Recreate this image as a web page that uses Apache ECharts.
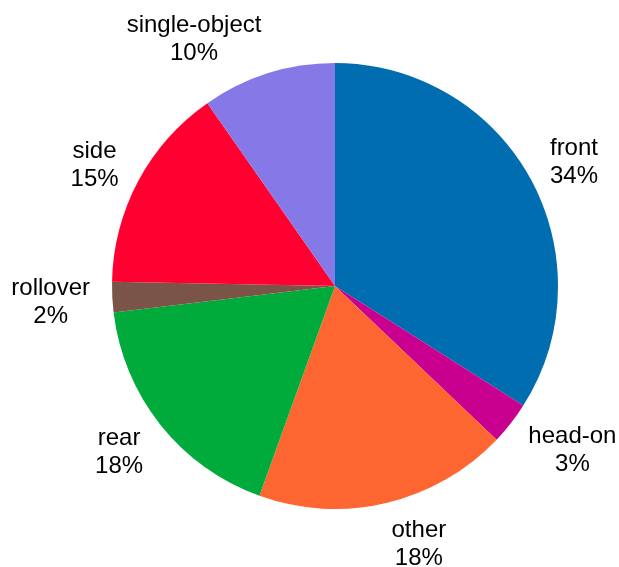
<!DOCTYPE html>
<html>
<head>
<meta charset="utf-8">
<script src="https://cdn.jsdelivr.net/npm/echarts@6/dist/echarts.min.js"></script>
<style>
html,body{margin:0;padding:0;background:#fff;}
#main{width:619px;height:567px;}
</style>
</head>
<body>
<div id="main"></div>
<script>
var categories = ['front', 'head-on', 'other', 'rear', 'rollover', 'side', 'single-object'];
var values = [34.0, 3.1, 18.4, 17.6, 2.2, 15.0, 9.7];
var colors = ['#006DB0', '#C9008F', '#FD6630', '#00AB3C', '#7A5446', '#FF0030', '#8579E8'];

var chart = echarts.init(document.getElementById('main'), null, {renderer: 'canvas'});

var seriesData = categories.map(function (c, i) {
  return { name: c, value: values[i], itemStyle: { color: colors[i] } };
});

chart.setOption({
  backgroundColor: '#ffffff',
  animation: false,
  series: [{
    type: 'pie',
    center: [335, 286],
    radius: 223,
    startAngle: 90,
    clockwise: true,
    avoidLabelOverlap: false,
    itemStyle: { borderWidth: 0 },
    label: {
      show: true,
      position: 'outside',
      fontFamily: 'Liberation Sans, Arial, sans-serif',
      fontSize: 24,
      lineHeight: 28,
      color: '#000',
      formatter: function (p) {
        return '{a|' + p.name + '}\n{a|' + Math.round(p.percent) + '%}';
      },
      rich: {
        a: { align: 'center', fontFamily: 'Liberation Sans, Arial, sans-serif', fontSize: 24, lineHeight: 28, color: '#000' }
      }
    },
    labelLine: { show: false },
    labelLayout: function (p) {
      var data = chart.getModel().getSeriesByIndex(0).getData();
      var lay = data.getItemLayout(p.dataIndex);
      var mid = (lay.startAngle + lay.endAngle) / 2;
      var dx = Math.cos(mid), dy = Math.sin(mid);
      var ax = lay.cx + lay.r * 1.1 * dx;
      var ay = lay.cy + lay.r * 1.1 * dy;
      var h = p.labelRect.height;
      return {
        x: ax,
        y: ay + 3 + dy * h * 0.30,
        align: dx >= 0 ? 'left' : 'right',
        verticalAlign: 'middle'
      };
    },
    data: seriesData
  }]
});
</script>
</body>
</html>
